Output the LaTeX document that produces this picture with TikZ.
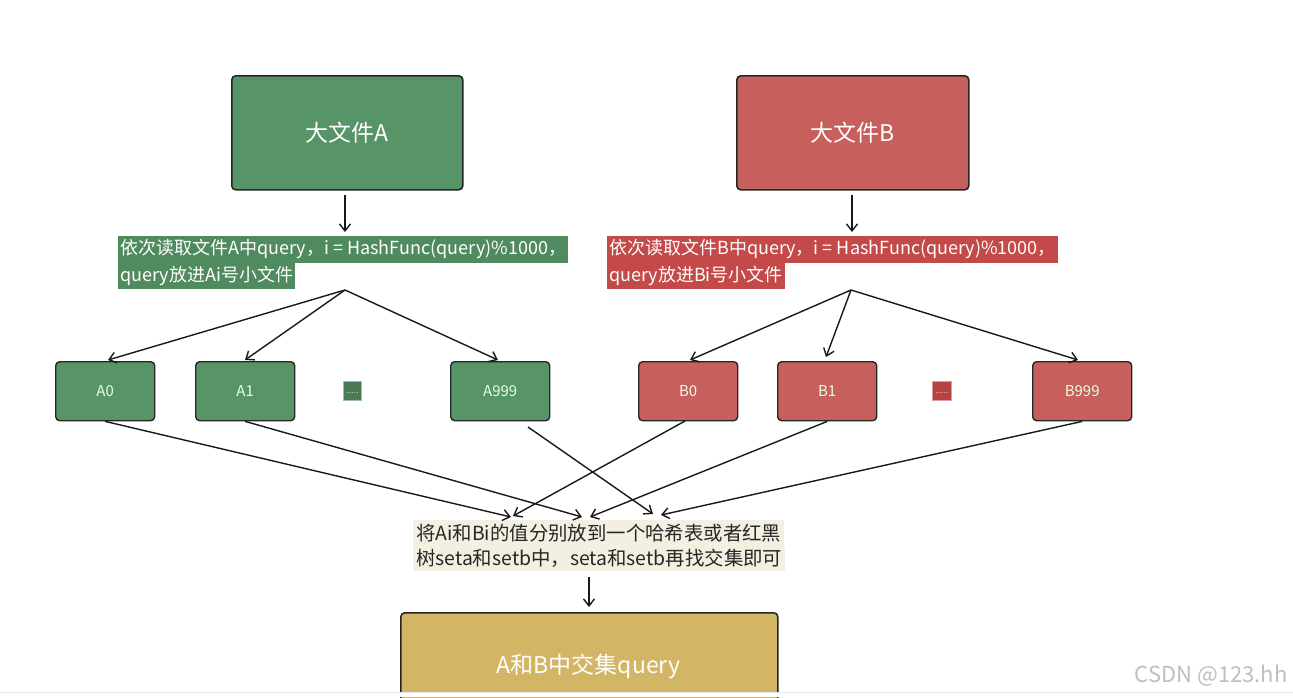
\documentclass[tikz,border=0pt]{standalone}
\usepackage{fontspec}
\setmainfont{Noto Sans CJK SC}
\usetikzlibrary{arrows.meta}
\definecolor{gA}{HTML}{579568}
\definecolor{gAd}{HTML}{4A7A56}
\definecolor{rB}{HTML}{C75F5D}
\definecolor{rBd}{HTML}{B84242}
\definecolor{hlA}{HTML}{4F8B5E}
\definecolor{hlB}{HTML}{C34A48}
\definecolor{beige}{HTML}{F3EFE1}
\definecolor{gold}{HTML}{D3B566}
\tikzset{
  bigbox/.style={draw=black!85,line width=1.6pt,rounded corners=4pt,text=white,font=\fontsize{23}{28}\selectfont,anchor=north west,inner sep=0pt},
  smallbox/.style={draw=black!85,line width=1.4pt,rounded corners=4pt,text=white!90!green,font=\fontsize{15}{18}\selectfont,anchor=north west,inner sep=0pt,minimum width=99pt,minimum height=59pt},
  hl/.style={anchor=north west,inner xsep=2pt,inner ysep=0pt,minimum height=26.5pt,font=\fontsize{18}{21}\selectfont,text=white},
  mid/.style={anchor=north west,inner xsep=3pt,inner ysep=0pt,minimum height=25.5pt,font=\fontsize{19.4}{23}\selectfont,text=black!85,fill=beige},
  arr/.style={-{Straight Barb[length=7pt,width=11pt]},line width=1.4pt,black!90},
}
\begin{document}
\begin{tikzpicture}[x=1pt,y=-1pt]
\useasboundingbox (0,0) rectangle (1293,697);
\fill[white] (0,0) rectangle (1293,697);
% big boxes
\node[bigbox,fill=gA,minimum width=231pt,minimum height=114pt] (FA) at (231,75) {大文件A};
\node[bigbox,fill=rB,minimum width=232pt,minimum height=114pt] (FB) at (736,75) {大文件B};
% text A / B
\node[hl,fill=hlA] (TA1) at (118,236) {依次读取文件A中query，i = HashFunc(query)\%1000，};
\node[hl,fill=hlA] (TA2) at (118,262.5) {query放进Ai号小文件};
\node[hl,fill=hlB] (TB1) at (607,236) {依次读取文件B中query，i = HashFunc(query)\%1000，};
\node[hl,fill=hlB] (TB2) at (607,262.5) {query放进Bi号小文件};
\coordinate (TAt) at (345,232);
\coordinate (TBt) at (852,232);
\coordinate (TAs) at (345,195);
\coordinate (TBs) at (852,195);
\coordinate (TAb) at (345,290);
\coordinate (TBb) at (851,290);
\draw[arr] (TAs) -- (TAt);
\draw[arr] (TBs) -- (TBt);
% small boxes
\node[smallbox,fill=gA] (A0) at (55,361) {A0};
\node[smallbox,fill=gA] (A1) at (195,361) {A1};
\node[smallbox,fill=gA] (A999) at (450,361) {A999};
\node[smallbox,fill=rB] (B0) at (638,361) {B0};
\node[smallbox,fill=rB] (B1) at (777,361) {B1};
\node[smallbox,fill=rB] (B999) at (1032,361) {B999};
\node[fill=gAd,draw=gA!60,line width=0.6pt,minimum width=18pt,minimum height=19pt,inner sep=0pt,anchor=north west,text=white!80!black,font=\fontsize{9}{9}\selectfont] (Ad) at (343,381) {\raisebox{-5pt}{.....}};
\node[fill=rBd,draw=rB!60,line width=0.6pt,minimum width=19pt,minimum height=19pt,inner sep=0pt,anchor=north west,text=white!80!black,font=\fontsize{9}{9}\selectfont] (Bd) at (932,381) {\raisebox{-5pt}{.....}};
% fans
\coordinate (pA0) at (108,360);
\coordinate (pA1) at (245,360);
\coordinate (pA9) at (498,360);
\coordinate (pB0) at (690,360);
\coordinate (pB1) at (826,357);
\coordinate (pB9) at (1078,360);
\draw[arr] (TAb) -- (pA0);
\draw[arr] (TAb) -- (pA1);
\draw[arr] (TAb) -- (pA9);
\draw[arr] (TBb) -- (pB0);
\draw[arr] (TBb) -- (pB1);
\draw[arr] (TBb) -- (pB9);
% middle text
\node[mid] (M1) at (413,520) {将Ai和Bi的值分别放到一个哈希表或者红黑};
\node[mid] (M2) at (413,545.5) {树seta和setb中，seta和setb再找交集即可};
% cross connectors
\coordinate (hA0) at (511,517);
\coordinate (hB0) at (513,516);
\coordinate (hA1) at (582,517);
\coordinate (hB1) at (590,517);
\coordinate (sA9) at (528,427);
\coordinate (hA9) at (653,514);
\coordinate (hB9) at (661,515);
\coordinate (sB0) at (685,421);
\draw[arr] (A0.south) -- (hA0);
\draw[arr] (sB0) -- (hB0);
\draw[arr] (A1.south) -- (hA1);
\draw[arr] (B1.south) -- (hB1);
\draw[arr] (sA9) -- (hA9);
\draw[arr] (B999.south) -- (hB9);
% result
\node[bigbox,fill=gold,minimum width=377pt,minimum height=100pt] (R) at (400,612) {};
\node[text=white,font=\fontsize{23}{28}\selectfont] (RT) at (588.5,666) {A和B中交集query};
\coordinate (Ms) at (589,577);
\coordinate (Rt) at (589,607);
\draw[arr] (Ms) -- (Rt);
% screen bottom and watermark
\fill[white] (0,693) rectangle (1293,697);
\draw[black!10,line width=1pt] (0,692.5) -- (1293,692.5);
\node[anchor=east,text=black!25,font=\fontsize{22}{26}\selectfont] (WM) at (1291,676) {CSDN @123.hh};
\end{tikzpicture}
\end{document}
